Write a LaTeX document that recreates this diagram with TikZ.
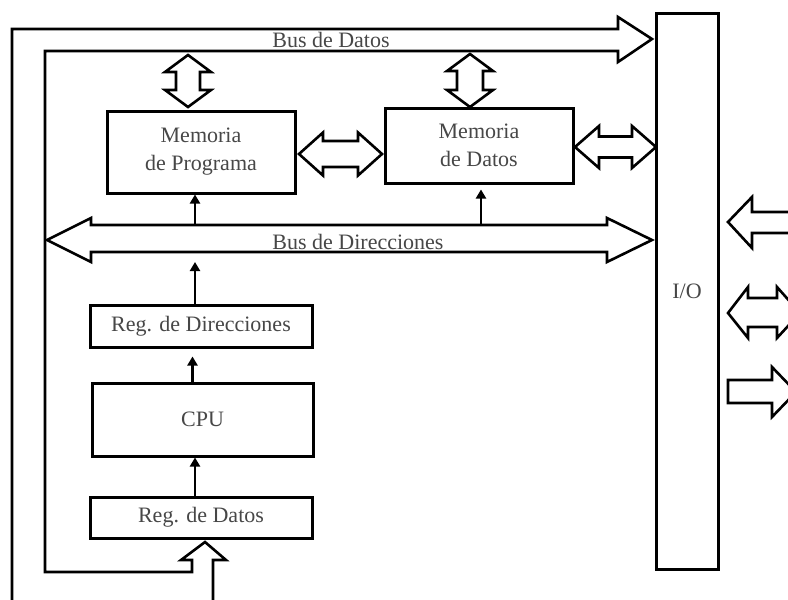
\documentclass[tikz,border=0pt]{standalone}
\usepackage{fontspec}
\setmainfont{Liberation Serif}
\usetikzlibrary{arrows.meta,shadows}
\tikzset{
  blk/.style={draw, line width=3pt, fill=white, text=black!72, align=center, inner sep=0pt,
    font=\fontsize{22}{28}\selectfont,
    drop shadow={shadow xshift=1.8pt, shadow yshift=-1.8pt, fill=black!35, opacity=1}},
  hollow/.style={draw, line width=2.6pt, line join=miter, fill=white},
  ptr/.style={line width=2.8pt, -{Triangle[length=9pt,width=10pt]}},
  lbl/.style={text=black!72, font=\fontsize{22}{26}\selectfont, inner sep=0pt}
}
% hollow double arrows: vertical {x}{ytop}{ybot}{head}{shaft}, horizontal {xl}{xr}{y}{head}{shaft}
\newcommand{\vdarrow}[5]{%
  \draw[hollow] (#1,#2) -- ({#1+#4},{#2+17}) -- ({#1+#5},{#2+17}) -- ({#1+#5},{#3-17})
    -- ({#1+#4},{#3-17}) -- (#1,#3) -- ({#1-#4},{#3-17}) -- ({#1-#5},{#3-17})
    -- ({#1-#5},{#2+17}) -- ({#1-#4},{#2+17}) -- cycle;}
\newcommand{\hdarrow}[5]{%
  \draw[hollow] (#1,#3) -- ({#1+24},{#3-#4}) -- ({#1+24},{#3-#5}) -- ({#2-24},{#3-#5})
    -- ({#2-24},{#3-#4}) -- (#2,#3) -- ({#2-24},{#3+#4}) -- ({#2-24},{#3+#5})
    -- ({#1+24},{#3+#5}) -- ({#1+24},{#3+#4}) -- cycle;}

\begin{document}
\begin{tikzpicture}[x=1pt,y=-1pt]
  \useasboundingbox (0,0) rectangle (788,600);
  \clip (0,0) rectangle (788,600);

  % blocks
  \node[blk, minimum width=188pt, minimum height=82pt] (mprog) at (201,152) {Memoria\\de Programa};
  \node[blk, minimum width=188pt, minimum height=75pt] (mdat) at (479,145.5) {Memoria\\de Datos};
  \node[blk, minimum width=62pt, minimum height=556pt, drop shadow={opacity=0}] (io) at (687,291) {I/O};
  \node[blk, minimum width=222pt, minimum height=42pt] (regdir) at (201,326) {Reg. de Direcciones};
  \node[blk, minimum width=221pt, minimum height=73pt] (cpu) at (202.5,419.5) {CPU};
  \node[blk, minimum width=222pt, minimum height=41pt] (regdat) at (201,517.5) {Reg. de Datos};

  % bus de datos
  \draw[hollow, fill=none] (213,610) -- (213,560) -- (226,560) -- (205,542) -- (181,560)
    -- (192,560) -- (192,572) -- (45,572) -- (45,51) -- (618,51) -- (618,62) -- (652,39)
    -- (618,17) -- (618,29) -- (12,29) -- (12,610);
  \node[lbl, anchor=base] (busdat) at (331,47) {Bus de Datos};

  % bus de direcciones
  \draw[hollow] (47,240) -- (91,218) -- (91,225) -- (607,225) -- (607,218) -- (652,240)
    -- (607,262) -- (607,252) -- (91,252) -- (91,262) -- cycle;
  \node[lbl, anchor=base] (busdir) at (358,249) {Bus de Direcciones};
  \coordinate (dirA) at (195,225);
  \coordinate (dirB) at (481,225);
  \coordinate (dirC) at (195,262);

  % data paths
  \vdarrow{188}{55}{107}{23}{12}
  \vdarrow{470}{54}{107}{23}{13}
  \hdarrow{299}{382}{154}{21.5}{13}
  \hdarrow{575}{656}{147}{21}{10.5}

  % address paths
  \draw[ptr] (dirA) -- (mprog.south -| dirA);
  \draw[ptr, shorten >=5pt] (dirB) -- (mdat.south -| dirB);
  \draw[ptr] (regdir.north -| dirC) -- (dirC);
  \draw[ptr, shorten >=8pt] ([xshift=-10pt]cpu.north) -- ([xshift=-10pt]cpu.north |- regdir.south);
  \draw[ptr] ([xshift=-6pt]regdat.north) -- ([xshift=-6pt]regdat.north |- cpu.south);

  % outside I/O
  \draw[hollow] (800,212) -- (752,212) -- (752,197) -- (728,222) -- (752,248) -- (752,233) -- (800,233);
  \draw[hollow] (728,313) -- (748,287) -- (748,298) -- (777,298) -- (777,287) -- (800,313)
    -- (777,338) -- (777,327) -- (748,327) -- (748,338) -- cycle;
  \draw[hollow] (772,380) -- (728,380) -- (728,403) -- (772,403) -- (772,417) -- (796,392)
    -- (772,367) -- cycle;
\end{tikzpicture}
\end{document}
